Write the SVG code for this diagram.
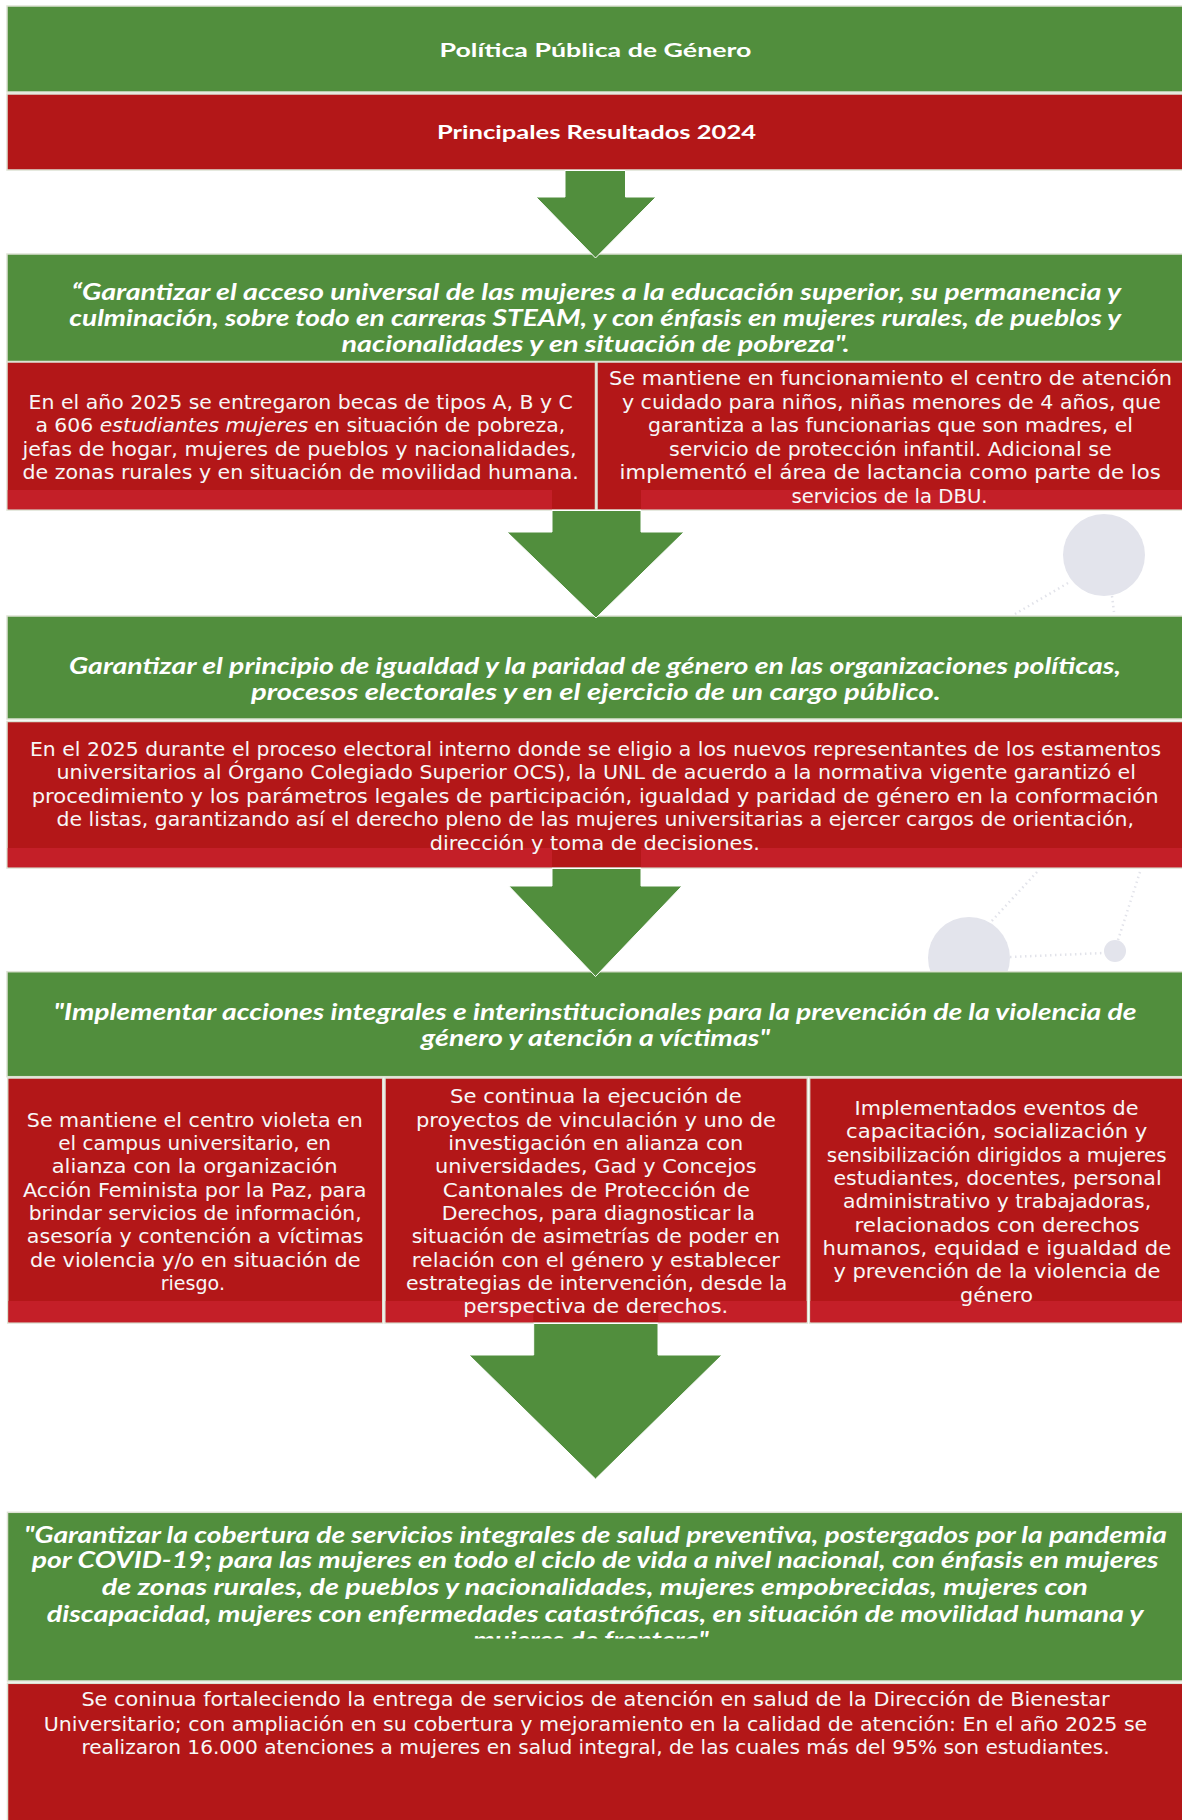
<svg xmlns="http://www.w3.org/2000/svg" width="1182" height="1820" viewBox="0 0 1182 1820">
<style>
.g{fill:#518e3d;stroke:#dde2d3;stroke-width:1.5}
.r{fill:#b31718;stroke:#dde2d3;stroke-width:1.5}
.s{fill:#c41f28}
.t{font-family:"Lato","Liberation Sans",sans-serif;font-weight:bold;font-size:19px;fill:#ffffff}
.h{font-family:"Lato","Liberation Sans",sans-serif;font-weight:bold;font-style:italic;font-size:22px;fill:#ffffff}
.b{font-family:"DejaVu Sans","Liberation Sans",sans-serif;font-size:19.5px;fill:#f7f7f7}
.arr{fill:#518e3d;stroke:#ffffff;stroke-width:1}
.deco{fill:#e3e4ec}
.dot{stroke:#e2e3ea;stroke-width:2.5;stroke-dasharray:1.5 3.5;fill:none}
</style>
<defs>
<clipPath id="clip5"><rect x="0" y="1512" width="1182" height="126.5"/></clipPath>
</defs>
<g id="decor">
<circle class="deco" cx="1104" cy="555" r="41"/>
<circle class="deco" cx="969" cy="958" r="41"/>
<circle class="deco" cx="1115" cy="951" r="11"/>
<line class="dot" x1="1068" y1="583" x2="1015" y2="614"/>
<line class="dot" x1="1112" y1="596" x2="1114" y2="612"/>
<line class="dot" x1="1037" y1="872" x2="988" y2="925"/>
<line class="dot" x1="1140" y1="872" x2="1118" y2="940"/>
<line class="dot" x1="1010" y1="957" x2="1104" y2="953"/>
</g>
<g id="title">
<rect class="g" x="7" y="6" width="1180" height="86"/>
<text class="t" x="439.5" y="57" textLength="312" lengthAdjust="spacingAndGlyphs">Política Pública de Género</text>
</g>
<g id="subtitle">
<rect class="r" x="7" y="94" width="1180" height="76"/>
<text class="t" x="437" y="139" textLength="319" lengthAdjust="spacingAndGlyphs">Principales Resultados 2024</text>
</g>
<g id="objetivo1">
<rect class="g" x="7" y="254" width="1180" height="107.5"/>
<text class="h" x="71.6" y="300" textLength="1049.4" lengthAdjust="spacingAndGlyphs">“Garantizar el acceso universal de las mujeres a la educación superior, su permanencia y</text>
<text class="h" x="69.3" y="325.5" textLength="1051.7" lengthAdjust="spacingAndGlyphs">culminación, sobre todo en carreras STEAM, y con énfasis en mujeres rurales, de pueblos y</text>
<text class="h" x="341.5" y="351.7" textLength="508" lengthAdjust="spacingAndGlyphs">nacionalidades y en situación de pobreza".</text>
</g>
<g id="resultado1a">
<rect class="r" x="7" y="362" width="588.5" height="148"/>
<rect class="s" x="7.75" y="490" width="544.25" height="19.25"/>
<text class="b" x="28.6" y="408.5" textLength="544.3" lengthAdjust="spacingAndGlyphs">En el año 2025 se entregaron becas de tipos A, B y C</text>
<text class="b" x="35.4" y="432" textLength="529.9" lengthAdjust="spacingAndGlyphs">a 606 <tspan font-style="italic">estudiantes mujeres</tspan> en situación de pobreza,</text>
<text class="b" x="22.6" y="455.5" textLength="553.9" lengthAdjust="spacingAndGlyphs">jefas de hogar, mujeres de pueblos y nacionalidades,</text>
<text class="b" x="22.6" y="478.5" textLength="556.2" lengthAdjust="spacingAndGlyphs">de zonas rurales y en situación de movilidad humana.</text>
</g>
<g id="resultado1b">
<rect class="r" x="597" y="362" width="590" height="148"/>
<rect class="s" x="641" y="490" width="546" height="19.25"/>
<text class="b" x="609" y="385" textLength="563" lengthAdjust="spacingAndGlyphs">Se mantiene en funcionamiento el centro de atención</text>
<text class="b" x="621.9" y="408.8" textLength="538.9" lengthAdjust="spacingAndGlyphs">y cuidado para niños, niñas menores de 4 años, que</text>
<text class="b" x="648" y="432" textLength="485" lengthAdjust="spacingAndGlyphs">garantiza a las funcionarias que son madres, el</text>
<text class="b" x="669" y="455.5" textLength="442.8" lengthAdjust="spacingAndGlyphs">servicio de protección infantil. Adicional se</text>
<text class="b" x="619.6" y="478.5" textLength="541.2" lengthAdjust="spacingAndGlyphs">implementó el área de lactancia como parte de los</text>
<text class="b" x="791.5" y="503" textLength="196" lengthAdjust="spacingAndGlyphs">servicios de la DBU.</text>
</g>
<g id="objetivo2">
<rect class="g" x="7" y="616" width="1180" height="103"/>
<text class="h" x="69" y="674" textLength="1052" lengthAdjust="spacingAndGlyphs">Garantizar el principio de igualdad y la paridad de género en las organizaciones políticas,</text>
<text class="h" x="251" y="699.5" textLength="689.7" lengthAdjust="spacingAndGlyphs">procesos electorales y en el ejercicio de un cargo público.</text>
</g>
<g id="resultado2">
<rect class="r" x="7" y="721.5" width="1180" height="146.5"/>
<rect class="s" x="7.75" y="848" width="544.25" height="19.25"/>
<rect class="s" x="641" y="848" width="546" height="19.25"/>
<text class="b" x="30" y="755.5" textLength="1131" lengthAdjust="spacingAndGlyphs">En el 2025 durante el proceso electoral interno donde se eligio a los nuevos representantes de los estamentos</text>
<text class="b" x="56.5" y="779" textLength="1079.5" lengthAdjust="spacingAndGlyphs">universitarios al Órgano Colegiado Superior OCS), la UNL de acuerdo a la normativa vigente garantizó el</text>
<text class="b" x="31.7" y="802.5" textLength="1126.9" lengthAdjust="spacingAndGlyphs">procedimiento y los parámetros legales de participación, igualdad y paridad de género en la conformación</text>
<text class="b" x="56.5" y="826" textLength="1077.5" lengthAdjust="spacingAndGlyphs">de listas, garantizando así el derecho pleno de las mujeres universitarias a ejercer cargos de orientación,</text>
<text class="b" x="429.7" y="850" textLength="330.3" lengthAdjust="spacingAndGlyphs">dirección y toma de decisiones.</text>
</g>
<g id="objetivo3">
<rect class="g" x="7" y="971.7" width="1180" height="105"/>
<text class="h" x="53.6" y="1020" textLength="1083" lengthAdjust="spacingAndGlyphs">"Implementar acciones integrales e interinstitucionales para la prevención de la violencia de</text>
<text class="h" x="421" y="1046" textLength="349" lengthAdjust="spacingAndGlyphs">género y atención a víctimas"</text>
</g>
<g id="resultado3a">
<rect class="r" x="7.7" y="1078" width="375" height="245"/>
<rect class="s" x="8.45" y="1301" width="373.5" height="21.25"/>
<text class="b" x="26.8" y="1126.5" textLength="336" lengthAdjust="spacingAndGlyphs">Se mantiene el centro violeta en</text>
<text class="b" x="58.2" y="1149.8" textLength="272.8" lengthAdjust="spacingAndGlyphs">el campus universitario, en</text>
<text class="b" x="51.7" y="1173.2" textLength="285.8" lengthAdjust="spacingAndGlyphs">alianza con la organización</text>
<text class="b" x="23" y="1196.5" textLength="343.6" lengthAdjust="spacingAndGlyphs">Acción Feminista por la Paz, para</text>
<text class="b" x="28.7" y="1219.8" textLength="332.9" lengthAdjust="spacingAndGlyphs">brindar servicios de información,</text>
<text class="b" x="26.8" y="1243.2" textLength="336.8" lengthAdjust="spacingAndGlyphs">asesoría y contención a víctimas</text>
<text class="b" x="29.9" y="1266.5" textLength="330.6" lengthAdjust="spacingAndGlyphs">de violencia y/o en situación de</text>
<text class="b" x="160.7" y="1289.8" textLength="64.3" lengthAdjust="spacingAndGlyphs">riesgo.</text>
</g>
<g id="resultado3b">
<rect class="r" x="385" y="1078" width="422.3" height="245"/>
<rect class="s" x="385.75" y="1301" width="147.55" height="21.25"/>
<rect class="s" x="658.3" y="1301" width="148.25" height="21.25"/>
<text class="b" x="450" y="1103.2" textLength="291.7" lengthAdjust="spacingAndGlyphs">Se continua la ejecución de</text>
<text class="b" x="416" y="1126.5" textLength="360" lengthAdjust="spacingAndGlyphs">proyectos de vinculación y uno de</text>
<text class="b" x="448.3" y="1149.8" textLength="295" lengthAdjust="spacingAndGlyphs">investigación en alianza con</text>
<text class="b" x="435" y="1173.2" textLength="321.7" lengthAdjust="spacingAndGlyphs">universidades, Gad y Concejos</text>
<text class="b" x="442.7" y="1196.5" textLength="307.3" lengthAdjust="spacingAndGlyphs">Cantonales de Protección de</text>
<text class="b" x="441.7" y="1219.8" textLength="313.3" lengthAdjust="spacingAndGlyphs">Derechos, para diagnosticar la</text>
<text class="b" x="411.7" y="1243.2" textLength="368.3" lengthAdjust="spacingAndGlyphs">situación de asimetrías de poder en</text>
<text class="b" x="411.7" y="1266.5" textLength="368.3" lengthAdjust="spacingAndGlyphs">relación con el género y establecer</text>
<text class="b" x="406" y="1289.8" textLength="381.3" lengthAdjust="spacingAndGlyphs">estrategias de intervención, desde la</text>
<text class="b" x="463.3" y="1313.2" textLength="265" lengthAdjust="spacingAndGlyphs">perspectiva de derechos.</text>
</g>
<g id="resultado3c">
<rect class="r" x="809.6" y="1078" width="377.4" height="245"/>
<rect class="s" x="810.35" y="1301" width="376" height="21.25"/>
<text class="b" x="854.5" y="1114.8" textLength="284" lengthAdjust="spacingAndGlyphs">Implementados eventos de</text>
<text class="b" x="846" y="1138.2" textLength="301.4" lengthAdjust="spacingAndGlyphs">capacitación, socialización y</text>
<text class="b" x="826.8" y="1161.5" textLength="339.8" lengthAdjust="spacingAndGlyphs">sensibilización dirigidos a mujeres</text>
<text class="b" x="833.4" y="1184.8" textLength="328.2" lengthAdjust="spacingAndGlyphs">estudiantes, docentes, personal</text>
<text class="b" x="843" y="1208.2" textLength="308.2" lengthAdjust="spacingAndGlyphs">administrativo y trabajadoras,</text>
<text class="b" x="854.5" y="1231.5" textLength="285.2" lengthAdjust="spacingAndGlyphs">relacionados con derechos</text>
<text class="b" x="822.6" y="1254.8" textLength="348.6" lengthAdjust="spacingAndGlyphs">humanos, equidad e igualdad de</text>
<text class="b" x="833.4" y="1278.2" textLength="327" lengthAdjust="spacingAndGlyphs">y prevención de la violencia de</text>
<text class="b" x="960" y="1301.5" textLength="73" lengthAdjust="spacingAndGlyphs">género</text>
</g>
<g id="objetivo4">
<rect class="g" x="7.5" y="1512.3" width="1180" height="168.7"/>
<g clip-path="url(#clip5)">
<text class="h" x="24" y="1542.7" textLength="1143" lengthAdjust="spacingAndGlyphs">"Garantizar la cobertura de servicios integrales de salud preventiva, postergados por la pandemia</text>
<text class="h" x="31.7" y="1568.3" textLength="1126.9" lengthAdjust="spacingAndGlyphs">por COVID-19; para las mujeres en todo el ciclo de vida a nivel nacional, con énfasis en mujeres</text>
<text class="h" x="101.8" y="1595" textLength="986" lengthAdjust="spacingAndGlyphs">de zonas rurales, de pueblos y nacionalidades, mujeres empobrecidas, mujeres con</text>
<text class="h" x="46.7" y="1621.7" textLength="1096.8" lengthAdjust="spacingAndGlyphs">discapacidad, mujeres con enfermedades catastróficas, en situación de movilidad humana y</text>
<text class="h" x="473" y="1648" textLength="235.6" lengthAdjust="spacingAndGlyphs">mujeres de frontera"</text>
</g>
</g>
<g id="resultado4">
<rect class="r" x="7.5" y="1683.3" width="1180" height="140"/>
<text class="b" x="81.4" y="1706" textLength="1028.2" lengthAdjust="spacingAndGlyphs">Se coninua fortaleciendo la entrega de servicios de atención en salud de la Dirección de Bienestar</text>
<text class="b" x="43.7" y="1730.7" textLength="1103.6" lengthAdjust="spacingAndGlyphs">Universitario; con ampliación en su cobertura y mejoramiento en la calidad de atención: En el año 2025 se</text>
<text class="b" x="81.4" y="1754.3" textLength="1028.2" lengthAdjust="spacingAndGlyphs">realizaron 16.000 atenciones a mujeres en salud integral, de las cuales más del 95% son estudiantes.</text>
</g>
<g id="connectors">
<polygon class="arr" points="565,170.5 625.5,170.5 625.5,197 656,197 595.5,258 536,197 565,197"/>
<polygon class="arr" points="552,510.5 641,510.5 641,532 684,532 596,618 507,532 552,532"/>
<polygon class="arr" points="552,868.5 641,868.5 641,886 682,886 595.5,976.5 508.8,886 552,886"/>
<polygon class="arr" points="533.7,1323.5 658,1323.5 658,1355 722,1355 595.5,1479 469,1355 533.7,1355"/>
</g>
</svg>
